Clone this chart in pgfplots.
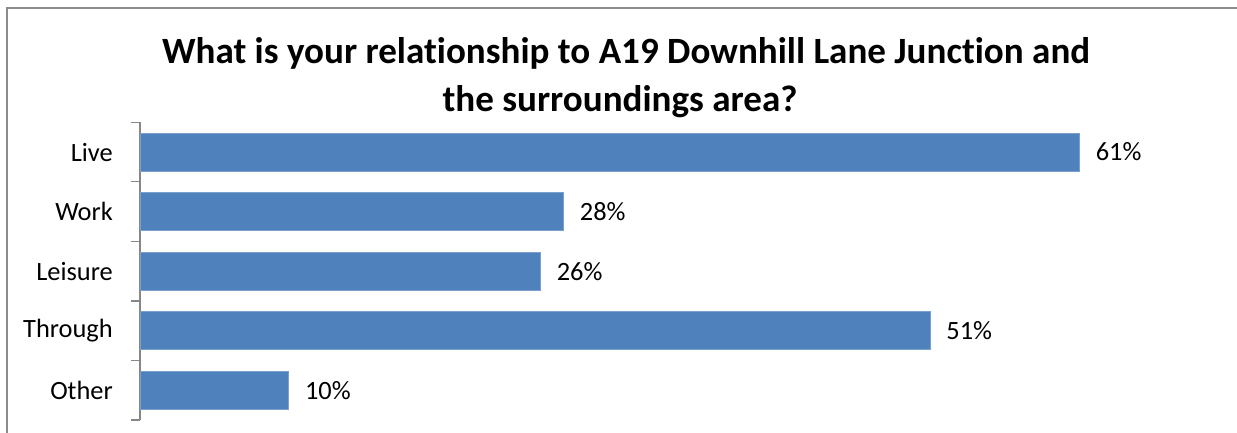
\documentclass[border=0pt]{standalone}
\usepackage{pgfplots}
\pgfplotsset{compat=1.18}
\usepackage{fontspec}
\setmainfont[Ligatures=NoCommon]{Carlito}
\definecolor{barblue}{HTML}{4F81BD}
\definecolor{axgray}{HTML}{868686}
\definecolor{framegray}{HTML}{8C8C8C}
\begin{document}
\begin{tikzpicture}[x=1bp,y=1bp]
\useasboundingbox (0,0) rectangle (1237,432);
\draw[line width=2bp, color=framegray] (6.5,-10) -- (6.5,423.5) -- (1250,423.5);
\node[font=\fontsize{37.2}{44}\selectfont\bfseries, anchor=base, inner sep=0pt] at (626,369) {What is your relationship to A19 Downhill Lane Junction and};
\node[font=\fontsize{37.2}{44}\selectfont\bfseries, anchor=base, inner sep=0pt] at (620,321) {the surroundings area?};
\begin{axis}[
  at={(140bp,12bp)}, anchor=south west, scale only axis,
  width=1047.2bp, height=297.7bp,
  xbar, bar width=38bp,
  xmin=0, xmax=68, ymin=-0.5, ymax=4.5, y dir=reverse,
  axis x line=none, axis y line*=left,
  xtick=\empty,
  ytick={0,1,2,3,4}, yticklabels={Live,Work,Leisure,Through,Other},
  minor ytick={-0.5,0.5,1.5,2.5,3.5,4.5},
  major tick length=0pt, minor tick length=9bp, tick align=outside,
  tick style={axgray, line width=1.3bp},
  axis line style={axgray, line width=1.3bp},
  yticklabel style={font=\fontsize{26.5}{32}\selectfont, inner sep=0pt, xshift=-27bp},
  nodes near coords={\pgfplotspointmeta\%},
  nodes near coords style={anchor=west, inner sep=0pt, xshift=16bp, font=\fontsize{26.5}{32}\selectfont, text=black},
  point meta=explicit symbolic,
  clip=false,
]
\addplot[fill=barblue, draw=barblue!75!white, line width=0.8bp] table[x=v, y=c, meta=lab] {
c v lab
0 61.0 61
1 27.5 28
2 26.0 26
3 51.3 51
4 9.65 10
};
\end{axis}
\end{tikzpicture}
\end{document}
